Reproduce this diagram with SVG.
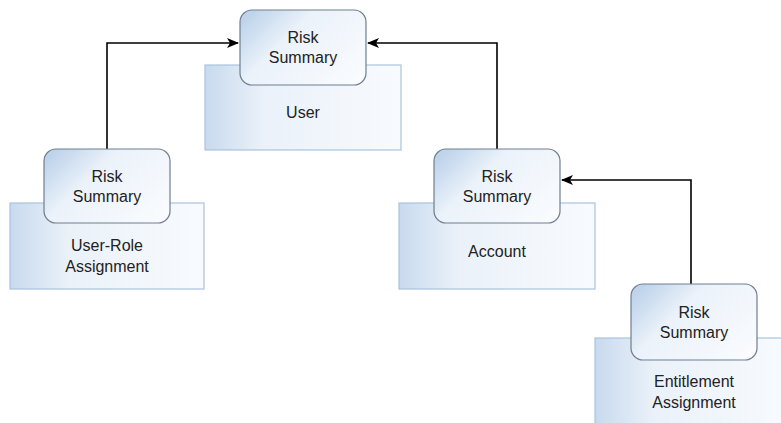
<svg xmlns="http://www.w3.org/2000/svg" width="781" height="423" viewBox="0 0 781 423">
<defs>
<linearGradient id="gRect" x1="0" y1="0" x2="1" y2="0">
<stop offset="0" stop-color="#c8daee"/>
<stop offset="0.3" stop-color="#eaf1f9"/>
<stop offset="1" stop-color="#f8fbfe"/>
</linearGradient>
<linearGradient id="gBox" x1="0" y1="0.2" x2="1" y2="0.8">
<stop offset="0" stop-color="#bfd4eb"/>
<stop offset="0.35" stop-color="#ebf2fa"/>
<stop offset="1" stop-color="#f9fbfe"/>
</linearGradient>
<marker id="arr" viewBox="0 0 12 10" refX="11" refY="5" markerWidth="12" markerHeight="10" markerUnits="userSpaceOnUse" orient="auto">
<path d="M0,0 L12,5 L0,10 L3,5 Z" fill="#000"/>
</marker>
<style>
.ent{fill:url(#gRect);stroke:#a9c3de;stroke-width:1.2}
.rs{fill:url(#gBox);stroke:#6f7f90;stroke-width:1.2}
.t{font-family:"Liberation Sans",Arial,sans-serif;font-size:16px;fill:#222;text-anchor:middle}
.c{fill:none;stroke:#000;stroke-width:1.6}
</style>
</defs>
<g id="connectors">
<path class="c" d="M107,149 V43 H238" marker-end="url(#arr)"/>
<path class="c" d="M497,149 V43 H368" marker-end="url(#arr)"/>
<path class="c" d="M691,284 V180 H562" marker-end="url(#arr)"/>
</g>
<g id="user">
<rect class="ent" x="205" y="65" width="196" height="85"/>
<rect class="rs" x="240" y="10" width="126" height="75" rx="12"/>
<text class="t" x="303" y="43">Risk</text>
<text class="t" x="303" y="63">Summary</text>
<text class="t" x="303" y="118">User</text>
</g>
<g id="user-role">
<rect class="ent" x="10" y="203" width="194" height="86"/>
<rect class="rs" x="44" y="149" width="126" height="74" rx="12"/>
<text class="t" x="107" y="182">Risk</text>
<text class="t" x="107" y="202">Summary</text>
<text class="t" x="107" y="251">User-Role</text>
<text class="t" x="107" y="272">Assignment</text>
</g>
<g id="account">
<rect class="ent" x="399" y="203" width="196" height="86"/>
<rect class="rs" x="434" y="149" width="126" height="74" rx="12"/>
<text class="t" x="497" y="182">Risk</text>
<text class="t" x="497" y="202">Summary</text>
<text class="t" x="497" y="257">Account</text>
</g>
<g id="entitlement">
<rect class="ent" x="595" y="338" width="196" height="90"/>
<rect class="rs" x="631" y="284" width="126" height="76" rx="12"/>
<text class="t" x="694" y="318">Risk</text>
<text class="t" x="694" y="338">Summary</text>
<text class="t" x="694" y="387">Entitlement</text>
<text class="t" x="694" y="408">Assignment</text>
</g>
</svg>
